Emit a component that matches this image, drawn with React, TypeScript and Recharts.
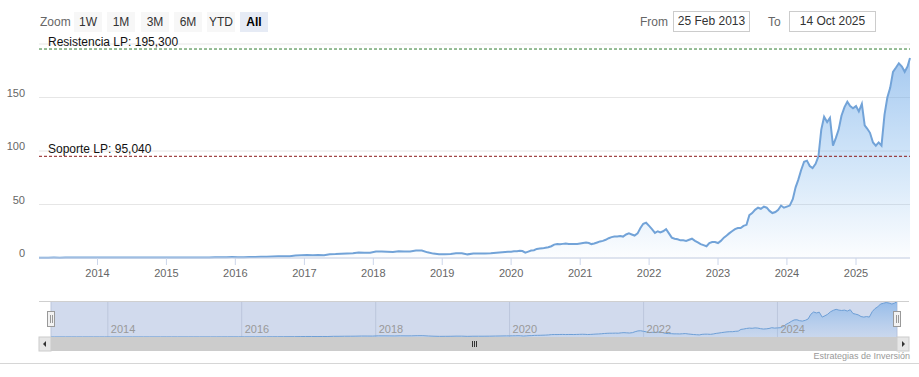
import React from "react";
import { AreaChart, Area, XAxis, YAxis, CartesianGrid, ReferenceLine } from "recharts";

// closes (split adjusted)
const startDate = "2013-02-25";
const endDate = "2025-10-14";

// 2013: first value is 25 Feb, then mid-month Mar..Dec
const close2013 = [0.31, 0.32, 0.33, 0.36, 0.35, 0.36, 0.37, 0.39, 0.38, 0.39, 0.4];
// monthly, mid-month
const close2014 = [0.4, 0.45, 0.46, 0.46, 0.48, 0.47, 0.45, 0.48, 0.47, 0.47, 0.51, 0.5];
const close2015 = [0.52, 0.56, 0.53, 0.55, 0.56, 0.51, 0.5, 0.55, 0.6, 0.7, 0.8, 0.82];
const close2016 = [0.72, 0.78, 0.88, 0.9, 1.15, 1.18, 1.4, 1.53, 1.7, 1.75, 2.3, 2.65];
const close2017 = [2.7, 2.55, 2.7, 2.6, 3.55, 3.65, 4.05, 4.2, 4.45, 5.1, 5.0, 4.85];
const close2018 = [6.1, 6.0, 5.8, 5.6, 6.3, 6.0, 6.1, 6.9, 7.0, 5.3, 4.1, 3.4];
const close2019 = [3.6, 3.85, 4.5, 4.5, 3.4, 4.1, 4.2, 4.2, 4.4, 5.0, 5.4, 5.9];
// twice a month (1st and 16th)
const close2020 = [5.9, 6.2, 6.4, 6.8, 6.5, 5.0, 6.0, 7.0, 7.3, 8.5, 8.8, 9.0, 9.5, 10.0, 11.0, 12.5, 13.0, 12.8, 13.2, 13.5, 13.0, 13.2, 13.2, 13.0];
const close2021 = [13.5, 14.0, 14.5, 14.0, 13.0, 13.5, 14.5, 15.5, 16.0, 17.0, 18.5, 19.5, 20.0, 20.0, 20.5, 20.0, 22.0, 23.0, 22.0, 21.0, 23.0, 28.0, 32.0, 33.0];
const close2022 = [30.0, 27.0, 23.5, 25.0, 24.0, 25.0, 27.0, 23.0, 19.0, 18.0, 17.5, 16.5, 16.5, 16.0, 17.0, 18.0, 16.0, 14.5, 13.0, 12.0, 11.0, 14.0, 15.0, 15.0];
const close2023 = [14.0, 16.0, 19.0, 21.0, 23.0, 25.0, 27.0, 28.0, 28.0, 30.0, 31.0, 40.0, 42.0, 45.0, 47.0, 46.0, 48.0, 47.0, 44.0, 42.0, 43.0, 45.0, 49.0, 47.0];
const close2024 = [48, 49, 55, 66, 73, 82, 90, 91, 86, 84, 88, 95, 120, 132, 127, 131, 105, 112, 120, 133, 141, 146, 142, 140];
// 2025: 1st/16th Jan..Sep, 1 Oct, then 14 Oct
const close2025 = [142, 137, 144, 124, 121, 117, 108, 105, 108, 105, 134, 150, 159, 174, 178, 182, 179, 174, 179, 187];

const monthlyYears = [2014, 2015, 2016, 2017, 2018, 2019];
const monthlyCloses = [close2014, close2015, close2016, close2017, close2018, close2019];
const halfMonthYears = [2020, 2021, 2022, 2023, 2024, 2025];
const halfMonthCloses = [close2020, close2021, close2022, close2023, close2024, close2025];

const yearTicks = [2014, 2015, 2016, 2017, 2018, 2019, 2020, 2021, 2022, 2023, 2024, 2025];
const navYearTicks = [2014, 2016, 2018, 2020, 2022, 2024];
const yTicks = [0, 50, 100, 150, 200];

const resistance = 195.3;
const support = 95.04;
const resistanceLabel = "Resistencia LP: 195,300";
const supportLabel = "Soporte LP: 95,040";

const zoomButtons = ["1W", "1M", "3M", "6M", "YTD", "All"];
const fromText = "25 Feb 2013";
const toText = "14 Oct 2025";
const credits = "Estrategias de Inversión";

const FONT = '"Lucida Grande", "Lucida Sans Unicode", "Liberation Sans", Arial, sans-serif';

// build table
const rows: { t: number; v: number }[] = [];
rows.push({ t: Date.parse(startDate), v: close2013[0] });
close2013.slice(1).forEach((v, i) => rows.push({ t: Date.UTC(2013, i + 2, 15), v }));
monthlyYears.forEach((yr, k) => monthlyCloses[k].forEach((v, m) => rows.push({ t: Date.UTC(yr, m, 15), v })));
halfMonthYears.forEach((yr, k) =>
  halfMonthCloses[k].forEach((v, i) => {
    const last = yr === 2025 && i === halfMonthCloses[k].length - 1;
    const t = last ? Date.parse(endDate) : Date.UTC(yr, Math.floor(i / 2), i % 2 === 0 ? 1 : 16);
    rows.push({ t, v });
  })
);

const t0 = Date.parse(startDate);
const t1 = Date.parse(endDate);
const yearTs = yearTicks.map((y) => Date.UTC(y, 0, 1));
const navTs = navYearTicks.map((y) => Date.UTC(y, 0, 1));

const YTick = (props: any) => {
  const { y, payload } = props;
  if (payload.value === 200) return <g />;
  return (
    <text x={25} y={y - 5} dy={4} textAnchor="end" fill="#666" fontSize={11} fontFamily={FONT}>
      {payload.value}
    </text>
  );
};

const NavTick = (props: any) => {
  const { x, payload } = props;
  return (
    <text x={x + 3} y={43} fill="#999" fontSize={11} fontFamily={FONT}>
      {new Date(payload.value).getUTCFullYear()}
    </text>
  );
};

const LineLabel = (props: any) => {
  const { viewBox, value } = props;
  return (
    <text x={viewBox.x + 9} y={viewBox.y - 3} fontSize={12} fill="#111" fontFamily={FONT}>
      {value}
    </text>
  );
};

const btnBase: React.CSSProperties = {
  position: "absolute",
  top: 12,
  width: 28,
  height: 20,
  lineHeight: "20px",
  textAlign: "center",
  fontSize: 12,
  color: "#333",
  background: "#f7f7f7",
};

export default function App() {
  return (
    <div style={{ position: "absolute", left: 0, top: 0, width: 919, height: 377, background: "#fff", fontFamily: FONT, overflow: "hidden" }}>
      {/* range selector */}
      <div style={{ position: "absolute", left: 40, top: 12, lineHeight: "20px", fontSize: 12, color: "#666" }}>Zoom</div>
      {zoomButtons.map((b, i) => {
        const sel = b === "All";
        return (
          <div
            key={b}
            style={{
              ...btnBase,
              left: [74, 107, 141, 174, 207, 240][i],
              background: sel ? "#e6ebf5" : "#f7f7f7",
              fontWeight: sel ? "bold" : "normal",
              color: sel ? "#000" : "#333",
            }}
          >
            {b}
          </div>
        );
      })}
      <div style={{ position: "absolute", left: 640, top: 12, lineHeight: "20px", fontSize: 12, color: "#666" }}>From</div>
      <div style={{ position: "absolute", left: 673, top: 11, width: 75, height: 19, border: "1px solid #ccc", lineHeight: "19px", textAlign: "center", fontSize: 12, color: "#333" }}>
        {fromText}
      </div>
      <div style={{ position: "absolute", left: 768, top: 12, lineHeight: "20px", fontSize: 12, color: "#666" }}>To</div>
      <div style={{ position: "absolute", left: 789, top: 11, width: 85, height: 19, border: "1px solid #ccc", lineHeight: "19px", textAlign: "center", fontSize: 12, color: "#333" }}>
        {toText}
      </div>

      {/* main chart */}
      <div style={{ position: "absolute", left: 0, top: 0 }}>
        <AreaChart width={919} height={290} data={rows} margin={{ top: 44, right: 9, bottom: 0, left: 0 }}>
          <defs>
            <linearGradient id="mainFill" x1="0" y1="0" x2="0" y2="1">
              <stop offset="0%" stopColor="#6aa5e6" stopOpacity={1} />
              <stop offset="55%" stopColor="#7cb5ec" stopOpacity={0.55} />
              <stop offset="100%" stopColor="#7cb5ec" stopOpacity={0.04} />
            </linearGradient>
          </defs>
          <CartesianGrid vertical={false} stroke="#e6e6e6" />
          <XAxis
            dataKey="t"
            type="number"
            domain={[t0, t1]}
            ticks={yearTs}
            tickFormatter={(t: number) => String(new Date(t).getUTCFullYear())}
            tick={{ fill: "#666", fontSize: 11, fontFamily: FONT }}
            stroke="#ccd6eb"
            tickSize={7}
            tickMargin={4}
            height={32}
          />
          <YAxis domain={[0, 200]} ticks={yTicks} width={39} axisLine={false} tickLine={false} tick={<YTick />} />
          <Area
            type="linear"
            dataKey="v"
            stroke="#72a3d8"
            strokeWidth={2}
            fill="url(#mainFill)"
            dot={false}
            activeDot={false}
            isAnimationActive={false}
          />
          <ReferenceLine y={resistance} stroke="#2f7d2f" strokeDasharray="3 2" label={<LineLabel value={resistanceLabel} />} />
          <ReferenceLine y={support} stroke="#8b1a1a" strokeDasharray="3 2" label={<LineLabel value={supportLabel} />} />
        </AreaChart>
      </div>

      {/* navigator */}
      <div style={{ position: "absolute", left: 0, top: 290 }}>
        <AreaChart width={919} height={60} data={rows} margin={{ top: 11, right: 22, bottom: 0, left: 51 }}>
          <defs>
            <linearGradient id="navFill" x1="0" y1="0" x2="0" y2="1">
              <stop offset="0%" stopColor="#6aa5e6" stopOpacity={0.95} />
              <stop offset="100%" stopColor="#7cb5ec" stopOpacity={0.15} />
            </linearGradient>
          </defs>
          <CartesianGrid horizontal={false} stroke="#bcc6dc" fill="#d1daed" />
          <XAxis
            dataKey="t"
            type="number"
            domain={[t0, t1]}
            ticks={navTs}
            tick={<NavTick />}
            axisLine={false}
            tickLine={false}
            height={13}
          />
          <YAxis hide domain={[0, 190]} />
          <Area type="linear" dataKey="v" stroke="#6e9fd6" strokeWidth={1} fill="url(#navFill)" dot={false} activeDot={false} isAnimationActive={false} />
        </AreaChart>
      </div>

      {/* navigator outline, handles, scrollbar, credits */}
      <svg width={919} height={377} style={{ position: "absolute", left: 0, top: 0, pointerEvents: "none" }}>
        <line x1={39} x2={909} y1={301.5} y2={301.5} stroke="#cfcfcf" />
        <rect x={39} y={337} width={870} height={14} fill="#f2f2f2" />
        <rect x={51} y={337} width={846} height={14} fill="#cccccc" />
        <rect x={39} y={337} width={12} height={14} fill="#e6e6e6" stroke="#cccccc" />
        <rect x={897} y={337} width={12} height={14} fill="#e6e6e6" stroke="#cccccc" />
        <path d="M 46 341 L 46 347 L 43 344 Z" fill="#333" />
        <path d="M 902 341 L 902 347 L 905 344 Z" fill="#333" />
        <line x1={472.5} x2={472.5} y1={341} y2={347} stroke="#333" />
        <line x1={474.5} x2={474.5} y1={341} y2={347} stroke="#333" />
        <line x1={476.5} x2={476.5} y1={341} y2={347} stroke="#333" />
        <rect x={47.5} y={311.5} width={7} height={15} fill="#f2f2f2" stroke="#999" />
        <line x1={50.5} x2={50.5} y1={315} y2={323} stroke="#999" />
        <line x1={52.5} x2={52.5} y1={315} y2={323} stroke="#999" />
        <rect x={893.5} y={311.5} width={7} height={15} fill="#f2f2f2" stroke="#999" />
        <line x1={896.5} x2={896.5} y1={315} y2={323} stroke="#999" />
        <line x1={898.5} x2={898.5} y1={315} y2={323} stroke="#999" />
        <line x1={0} x2={919} y1={363.5} y2={363.5} stroke="#d6d6d6" />
        <text x={910} y={359} textAnchor="end" fontSize={9} fill="#999" fontFamily={FONT}>
          {credits}
        </text>
      </svg>
    </div>
  );
}
